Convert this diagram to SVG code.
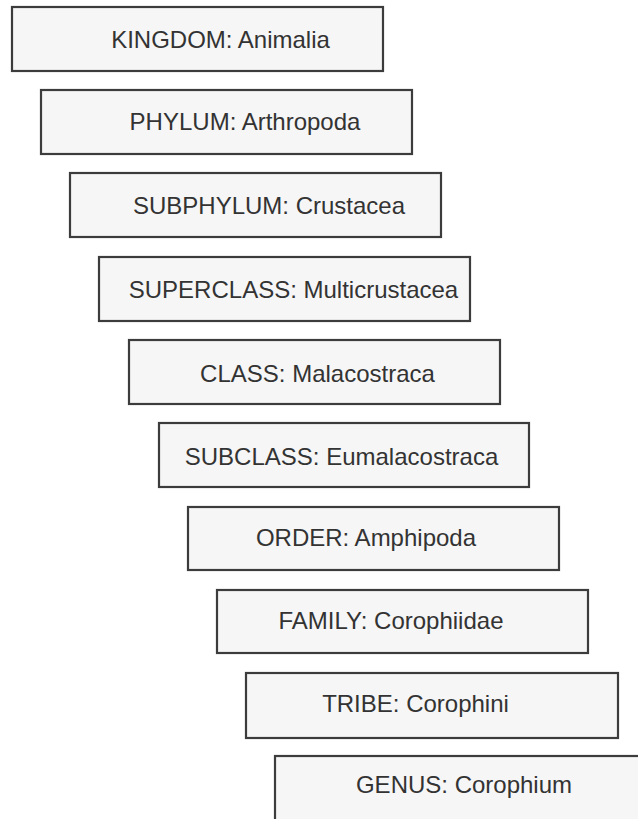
<svg xmlns="http://www.w3.org/2000/svg" width="638" height="819" viewBox="0 0 638 819">
<style>
.box{fill:#f6f6f6;stroke:#3c3c3c;stroke-width:2.2}
.lbl{font-family:"Liberation Sans",Arial,sans-serif;font-size:24px;fill:#333333;text-anchor:middle}
</style>
<rect width="638" height="819" fill="#ffffff"/>
<g id="connectors"></g>
<g id="kingdom"><rect class="box" x="12" y="7" width="371" height="64"/><text class="lbl" x="220.5" y="48">KINGDOM: Animalia</text></g>
<g id="phylum"><rect class="box" x="41" y="90" width="371" height="64"/><text class="lbl" x="245" y="130">PHYLUM: Arthropoda</text></g>
<g id="subphylum"><rect class="box" x="70" y="173" width="371" height="64"/><text class="lbl" x="269" y="214">SUBPHYLUM: Crustacea</text></g>
<g id="superclass"><rect class="box" x="99" y="257" width="371" height="64"/><text class="lbl" x="293.5" y="298">SUPERCLASS: Multicrustacea</text></g>
<g id="class"><rect class="box" x="129" y="340" width="371" height="64"/><text class="lbl" x="317.5" y="382">CLASS: Malacostraca</text></g>
<g id="subclass"><rect class="box" x="159" y="423" width="370" height="64"/><text class="lbl" x="341.5" y="465">SUBCLASS: Eumalacostraca</text></g>
<g id="order"><rect class="box" x="188" y="507" width="371" height="63"/><text class="lbl" x="366" y="546">ORDER: Amphipoda</text></g>
<g id="family"><rect class="box" x="217" y="590" width="371" height="63"/><text class="lbl" x="391" y="629">FAMILY: Corophiidae</text></g>
<g id="tribe"><rect class="box" x="246" y="673" width="372" height="65"/><text class="lbl" x="415.5" y="712">TRIBE: Corophini</text></g>
<g id="genus"><rect class="box" x="275" y="756" width="380" height="80"/><text class="lbl" x="464" y="793">GENUS: Corophium</text></g>
</svg>
